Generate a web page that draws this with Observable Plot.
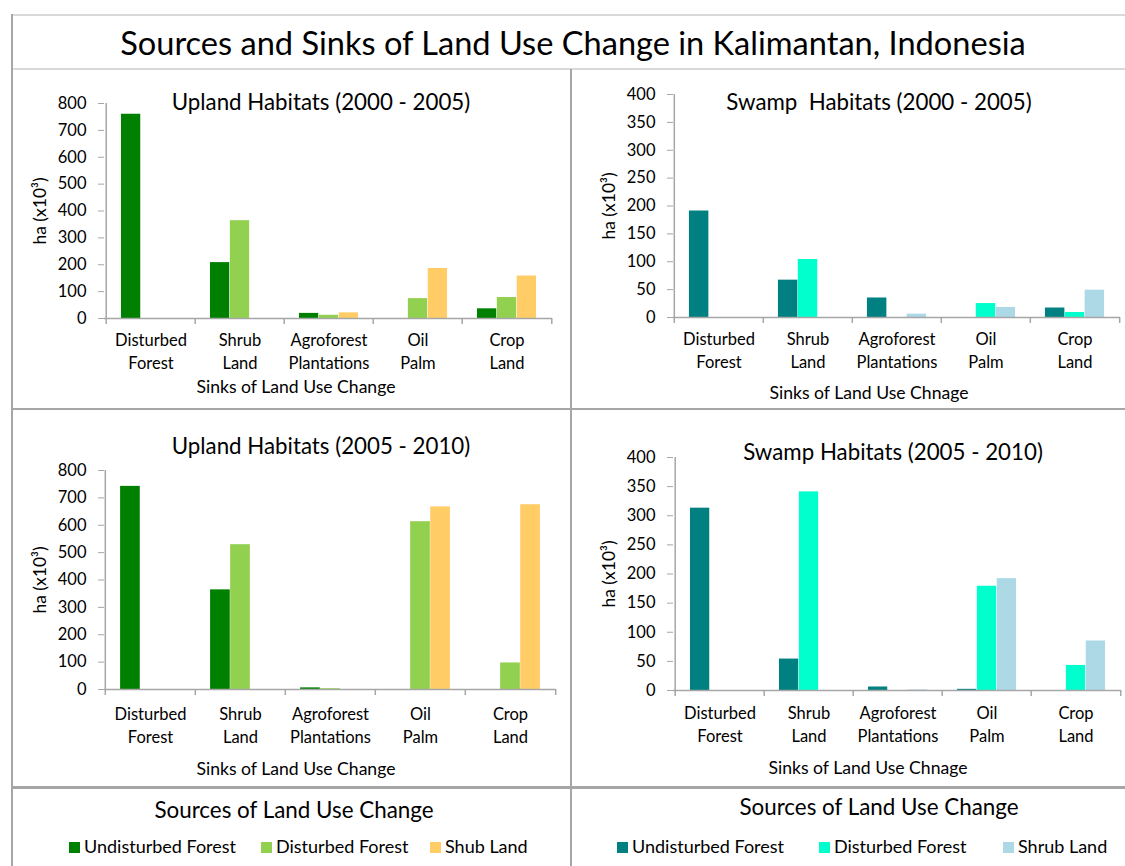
<!DOCTYPE html>
<html>
<head>
<meta charset="utf-8">
<script src="https://cdn.jsdelivr.net/npm/d3@7"></script>
<script src="https://cdn.jsdelivr.net/npm/@observablehq/plot@0.6"></script>
<style>
  html, body { margin: 0; padding: 0; background: #fff; }
  #root { position: relative; width: 1125px; height: 866px; background: #fff; font-family: Lato, "Open Sans", sans-serif; color: #000; overflow: hidden; }
  .txt { position: absolute; text-align: center; white-space: pre; line-height: 1; }
  .ln { position: absolute; background: #a6a6a6; }
  .lnl { position: absolute; background: #d9d9d9; }
  .chart { position: absolute; }
  .sw { position: absolute; width: 11px; height: 11px; }
  .li { position: absolute; white-space: pre; line-height: 1; font-size: 18px; }
</style>
</head>
<body>
<div id="root"></div>
<script>
// ---------- data ----------
const mainTitle = "Sources and Sinks of Land Use Change in Kalimantan, Indonesia";
const sinks = ["Disturbed Forest", "Shrub Land", "Agroforest Plantations", "Oil Palm", "Crop Land"];
const sinkLines = ["Disturbed\nForest", "Shrub\nLand", "Agroforest\nPlantations", "Oil\nPalm", "Crop\nLand"];
const uplandSources = ["Undisturbed Forest", "Disturbed Forest", "Shub Land"];
const swampSources = ["Undisturbed Forest", "Disturbed Forest", "Shrub Land"];
const uplandColors = ["#008000", "#92d050", "#ffcc66"];
const swampColors = ["#008080", "#00ffcc", "#add8e6"];
const uplandTicks = [0, 100, 200, 300, 400, 500, 600, 700, 800];
const swampTicks = [0, 50, 100, 150, 200, 250, 300, 350, 400];
const yLabel = "ha (x10³)";
const legendTitle = "Sources of Land Use Change";

// values per sink (Disturbed Forest, Shrub Land, Agroforest, Oil Palm, Crop Land), ha x10^3
const upland0005Undisturbed = [760, 208, 19, 0, 36];
const upland0005Disturbed   = [0, 364, 12, 74, 78];
const upland0005Shrub       = [0, 0, 21, 186, 158];

const swamp0005Undisturbed  = [191, 67, 35, 0, 17];
const swamp0005Disturbed    = [0, 104, 0, 25, 9];
const swamp0005Shrub        = [0, 0, 6, 18, 49];

const upland0510Undisturbed = [742, 364, 6, 0, 0];
const upland0510Disturbed   = [0, 529, 3, 613, 97];
const upland0510Shrub       = [0, 0, 0, 667, 675];

const swamp0510Undisturbed  = [313, 54, 6, 2, 0];
const swamp0510Disturbed    = [0, 341, 0, 179, 43];
const swamp0510Shrub        = [0, 0, 1, 192, 85];

// ---------- layout ----------
const root = document.getElementById("root");
const grey = "#a6a6a6";

function addText(text, cx, cy, fs, extra = {}) {
  const d = document.createElement("div");
  d.className = "txt";
  d.textContent = text;
  d.style.fontSize = fs + "px";
  d.style.left = (cx - 500) + "px";
  d.style.width = "1000px";
  d.style.top = (cy - 0.53 * fs) + "px";
  d.style.height = fs + "px";
  Object.assign(d.style, extra);
  root.appendChild(d);
}
function addLine(cls, x, y, w, h) {
  const d = document.createElement("div");
  d.className = cls;
  Object.assign(d.style, {left: x + "px", top: y + "px", width: w + "px", height: h + "px"});
  root.appendChild(d);
}

// frame lines
addLine("lnl", 11, 14, 1114, 2);
addLine("lnl", 11, 68, 1114, 2);
addLine("ln", 11, 14, 2, 852);
addLine("ln", 570, 69, 2, 797);
addLine("ln", 11, 408, 1114, 2);
addLine("ln", 11, 786, 1114, 3);

addText(mainTitle, 573, 44, 32.6);

const panels = [
  {title: "Upland Habitats (2000 - 2005)", xlab: "Sinks of Land Use Change", left: 11, top: 69, width: 560, height: 340,
   ml: 93, mr: 19, mt: 34, mb: 91, ymax: 800, ticks: uplandTicks, colors: uplandColors,
   series: [upland0005Undisturbed, upland0005Disturbed, upland0005Shrub], sources: uplandSources,
   tx: 321, ty: 103, xx: 296, xy: 387, catDy: 12},
  {title: "Swamp  Habitats (2000 - 2005)", xlab: "Sinks of Land Use Chnage", left: 571, top: 69, width: 554, height: 340,
   ml: 102, mr: 5, mt: 25, mb: 92, ymax: 400, ticks: swampTicks, colors: swampColors,
   series: [swamp0005Undisturbed, swamp0005Disturbed, swamp0005Shrub], sources: swampSources,
   tx: 879, ty: 103, xx: 869, xy: 393, catDy: 12},
  {title: "Upland Habitats (2005 - 2010)", xlab: "Sinks of Land Use Change", left: 11, top: 409, width: 560, height: 378,
   ml: 93, mr: 15, mt: 61, mb: 98, ymax: 800, ticks: uplandTicks, colors: uplandColors,
   series: [upland0510Undisturbed, upland0510Disturbed, upland0510Shrub], sources: uplandSources,
   tx: 321, ty: 447, xx: 296, xy: 769, catDy: 15},
  {title: "Swamp Habitats (2005 - 2010)", xlab: "Sinks of Land Use Chnage", left: 571, top: 409, width: 554, height: 378,
   ml: 102, mr: 4, mt: 48, mb: 97, ymax: 400, ticks: swampTicks, colors: swampColors,
   series: [swamp0510Undisturbed, swamp0510Disturbed, swamp0510Shrub], sources: swampSources,
   tx: 893, ty: 453, xx: 868, xy: 768, catDy: 13}
];

function drawPanel(p) {
  const rows = [];
  p.series.forEach((vals, j) => vals.forEach((v, i) => rows.push({sink: sinks[i], source: p.sources[j], j, value: v})));
  const innerW = p.width - p.ml - p.mr;
  const bw = innerW / sinks.length;
  const barW = bw * 0.222;
  const inset = (bw - barW) / 2;
  const marks = [];
  p.sources.forEach((src, j) => {
    marks.push(Plot.barY(rows.filter(r => r.j === j && r.value > 0), {
      x: "sink", y: "value", fill: p.colors[j], insetLeft: inset, insetRight: inset, dx: (j - 1) * barW
    }));
  });
  marks.push(Plot.ruleY([0], {stroke: grey, strokeWidth: 1.5}));
  // y axis line (left edge of first band)
  marks.push(Plot.ruleX([sinks[0]], {x: d => d, y1: p.ymax, y2: 0, insetBottom: -6, dx: -bw / 2, stroke: grey, strokeWidth: 1.5}));
  // category boundary ticks
  marks.push(Plot.ruleX(sinks.slice(1), {x: d => d, y1: 0, y2: 0, insetBottom: -6, dx: -bw / 2, stroke: grey, strokeWidth: 1.5}));
  marks.push(Plot.ruleX([sinks[sinks.length - 1]], {x: d => d, y1: 0, y2: 0, insetBottom: -6, dx: bw / 2, stroke: grey, strokeWidth: 1.5}));
  marks.push(Plot.axisY({
    ticks: p.ticks, tickSize: 6, tickPadding: 12, stroke: grey, fill: "#000", fontSize: 16.5,
    label: null
  }));
  marks.push(Plot.axisY({
    ticks: [], tickSize: 0, fill: "#000", fontSize: 17.5,
    label: yLabel, labelAnchor: "center", labelOffset: 71, labelArrow: "none"
  }));
  marks.push(Plot.text(sinks, {
    x: d => d, y: () => 0, text: (d) => sinkLines[sinks.indexOf(d)], lineAnchor: "top",
    dy: p.catDy, lineHeight: 1.35, fontSize: 16.5, fill: "#000"
  }));
  const chart = Plot.plot({
    width: p.width, height: p.height,
    marginLeft: p.ml, marginRight: p.mr, marginTop: p.mt, marginBottom: p.mb,
    x: {domain: sinks, padding: 0, axis: null},
    y: {domain: [0, p.ymax]},
    style: {fontFamily: "Lato, 'Open Sans', sans-serif", fontSize: "16px", background: "transparent", color: "#000", overflow: "visible"},
    marks
  });
  chart.classList.add("chart");
  chart.style.left = p.left + "px";
  chart.style.top = p.top + "px";
  root.appendChild(chart);
  addText(p.title, p.tx, p.ty, 22.3);
  addText(p.xlab, p.xx, p.xy, 17.6);
}
panels.forEach(drawPanel);

// ---------- legends ----------
addText(legendTitle, 294, 811, 22.4);
addText(legendTitle, 879, 808, 22.4);
function legendItems(sources, colors, xs) {
  sources.forEach((s, j) => {
    const sq = document.createElement("div");
    sq.className = "sw";
    sq.style.background = colors[j];
    sq.style.left = xs[j] + "px";
    sq.style.top = (847 - 5) + "px";
    root.appendChild(sq);
    const t = document.createElement("div");
    t.className = "li";
    t.textContent = s;
    t.style.left = (xs[j] + 15) + "px";
    t.style.top = (847 - 0.53 * 18) + "px";
    root.appendChild(t);
  });
}
legendItems(uplandSources, uplandColors, [69, 261, 430]);
legendItems(swampSources, swampColors, [617, 819, 1003]);
</script>
</body>
</html>
